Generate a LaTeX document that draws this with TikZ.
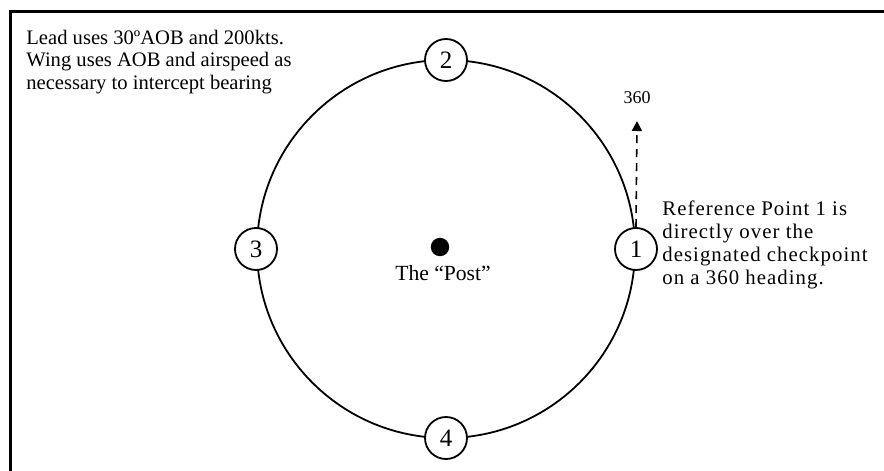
\documentclass[tikz,border=0pt]{standalone}
\usepackage{fontspec}
\setmainfont{Liberation Serif}
\newfontfamily\spacedfont[LetterSpace=5]{Liberation Serif}
\usetikzlibrary{arrows.meta}
\begin{document}
\begin{tikzpicture}[x=0.5pt,y=-0.5pt,
  pt/.style={circle,draw,line width=0.9pt,fill=white,minimum size=21pt,inner sep=0pt,font=\fontsize{12.5}{14}\selectfont},
  txt/.style={anchor=north west,align=left,inner sep=0pt}]
\useasboundingbox (0,0) rectangle (884,471);
\draw[line width=1.5pt] (10.5,471) -- (10.5,11) -- (884,11);
\coordinate (c) at (446,249);
\draw[line width=0.9pt] (c) circle[radius=94.5pt];
\node[pt] (n1) at (636,249) {1};
\node[pt] (n2) at (446,60) {2};
\node[pt] (n3) at (256,249) {3};
\node[pt] (n4) at (446,438) {4};
\fill (440,247) circle[radius=4.6pt];
\node[inner sep=0pt,font=\fontsize{10.8}{12}\selectfont] (post) at (443,273) {The “Post”};
\coordinate (tip) at (637,121);
\draw[dashed,line width=0.8pt,dash pattern=on 4pt off 3pt,-{Triangle[length=5pt,width=5pt]}] (n1.north) -- (tip);
\node[inner sep=0pt,font=\fontsize{9}{10}\selectfont] (hd) at (637,98) {360};
\node[txt,font=\fontsize{10.3}{11.1}\selectfont] (lt) at (26,30) {Lead uses 30ºAOB and 200kts.\\Wing uses AOB and airspeed as\\necessary to intercept bearing};
\node[txt,font=\spacedfont\fontsize{10.4}{11.5}\selectfont] (rt) at (662,200) {Reference Point 1 is\\directly over the\\designated checkpoint\\on a 360 heading.};
\end{tikzpicture}
\end{document}
